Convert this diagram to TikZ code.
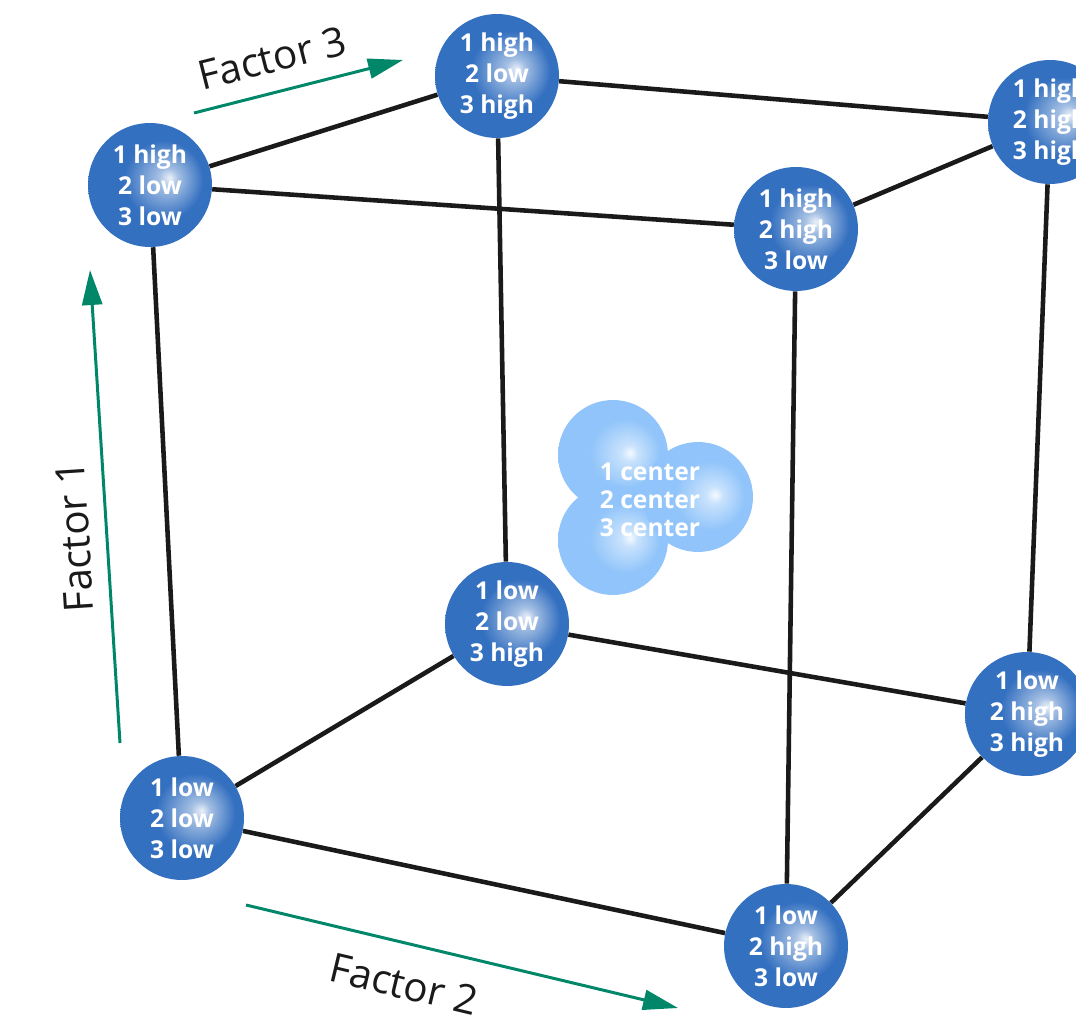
\documentclass[tikz,border=0pt]{standalone}
\usepackage{fontspec}
\setmainfont{Open Sans}
\usetikzlibrary{arrows.meta}

\definecolor{runblue}{HTML}{3470C0}
\definecolor{centerblue}{HTML}{90C4FA}
\definecolor{factorgreen}{HTML}{00876A}
\definecolor{edgeblack}{HTML}{1A1A1A}

\pgfdeclareradialshading{runglow}{\pgfpoint{8bp}{3bp}}{color(0bp)=(white!90!runblue); color(4bp)=(white!55!runblue); color(16bp)=(runblue); color(50bp)=(runblue)}
\pgfdeclareradialshading{centerglow}{\pgfpoint{8bp}{1bp}}{color(0bp)=(white!90!centerblue); color(4bp)=(white!50!centerblue); color(16bp)=(centerblue); color(50bp)=(centerblue)}

\begin{document}
\begin{tikzpicture}[
    x=0.02cm, y=-0.02cm,
    run/.style={circle, minimum size=2.48cm, inner sep=0pt, shading=runglow, text=white, align=center,
        font=\bfseries\fontsize{14}{17.6}\selectfont},
    blob/.style={circle, minimum size=2.2cm, inner sep=0pt, shading=centerglow},
    edge/.style={draw=edgeblack, line width=2.6pt},
    axisarrow/.style={draw=factorgreen, line width=1.7pt, -{Triangle[length=7mm, width=4mm]}},
    axislabel/.style={font=\fontsize{23}{26}\selectfont, text=edgeblack}
]
\useasboundingbox (0,0) rectangle (1076,1020);
\clip (0,0) rectangle (1076,1020);

% corner runs
\node[run] (hll) at (150,185) {1 high\\2 low\\3 low};
\node[run] (hlh) at (497,76) {1 high\\2 low\\3 high};
\node[run] (hhh) at (1050,122) {1 high\\2 high\\3 high};
\node[run] (hhl) at (796,229) {1 high\\2 high\\3 low};
\node[run] (llh) at (507,624) {1 low\\2 low\\3 high};
\node[run] (lhh) at (1027,714) {1 low\\2 high\\3 high};
\node[run] (lll) at (182,818) {1 low\\2 low\\3 low};
\node[run] (lhl) at (786,946) {1 low\\2 high\\3 low};

% cube edges
\draw[edge] (hll) -- (hlh);
\draw[edge] (hlh) -- (hhh);
\draw[edge] (hll) -- (hhl);
\draw[edge] (hhl) -- (hhh);
\draw[edge] (hll) -- (lll);
\draw[edge] (hlh) -- (llh);
\draw[edge] (hhl) -- (lhl);
\draw[edge] (hhh) -- (lhh);
\draw[edge] (lll) -- (llh);
\draw[edge] (llh) -- (lhh);
\draw[edge] (lll) -- (lhl);
\draw[edge] (lhl) -- (lhh);

% center points
\node[blob] (c1) at (613,455) {};
\node[blob] (c3) at (613,540) {};
\node[blob] (c2) at (698,497) {};
\node[text=white, align=center, font=\bfseries\fontsize{14}{15.9}\selectfont] (ctr) at (650,500) {1 center\\2 center\\3 center};

% factor axes
\coordinate (f1tail) at (120,743);
\coordinate (f1head) at (90,270);
\coordinate (f2tail) at (246,905);
\coordinate (f2head) at (678,1008);
\coordinate (f3tail) at (194,113);
\coordinate (f3head) at (403,60);
\draw[axisarrow] (f1tail) -- (f1head);
\draw[axisarrow] (f2tail) -- (f2head);
\draw[axisarrow] (f3tail) -- (f3head);
\node[axislabel, rotate=93.6] (f1) at (75,537) {Factor 1};
\node[axislabel, rotate=-13.4] (f2) at (404,984) {Factor 2};
\node[axislabel, rotate=14.2] (f3) at (272,58) {Factor 3};
\end{tikzpicture}
\end{document}
